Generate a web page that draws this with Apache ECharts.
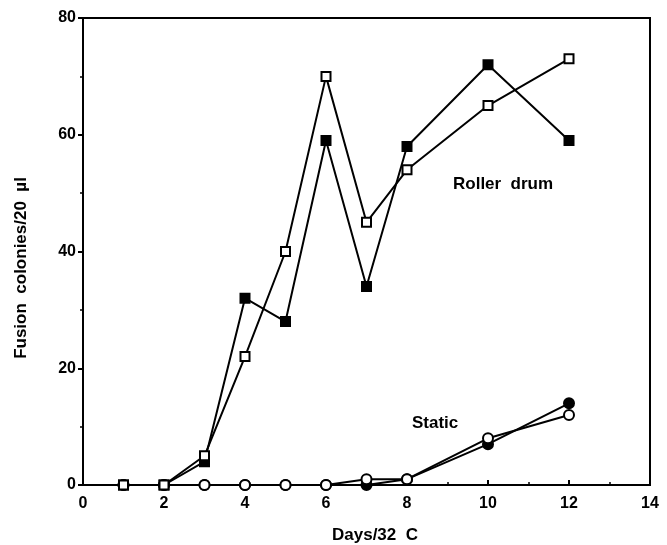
<!DOCTYPE html>
<html><head><meta charset="utf-8">
<script src="https://cdn.jsdelivr.net/npm/echarts@6/dist/echarts.min.js"></script>
<style>html,body{margin:0;padding:0;background:#fff}#c{width:667px;height:545px}</style>
</head><body><div id="c"></div>
<script>
const days = [1, 2, 3, 4, 5, 6, 7, 8, 10, 12];
const rollerFilled = [0, 0, 4, 32, 28, 59, 34, 58, 72, 59];
const rollerOpen = [0, 0, 5, 22, 40, 70, 45, 54, 65, 73];
const staticFilled = [0, 0, 0, 0, 0, 0, 0, 1, 7, 14];
const staticOpen = [0, 0, 0, 0, 0, 0, 1, 1, 8, 12];
const xTitle = 'Days/32  C';
const yTitle = 'Fusion  colonies/20  \u00b5l';

const pair = (xs, ys) => xs.map((x, i) => [x, ys[i]]);
const font = 'Liberation Sans, Arial, Helvetica, sans-serif';

function series(data, symbol, filled, z) {
  return {
    type: 'line', data: data, symbol: symbol, symbolSize: symbol === 'rect' ? 9 : 10,
    z: z,
    lineStyle: { color: '#000', width: 2 },
    itemStyle: { color: filled ? '#000' : '#fff', borderColor: '#000', borderWidth: 2 },
    showAllSymbol: true, animation: false
  };
}

const chart = echarts.init(document.getElementById('c'), null, { renderer: 'canvas' });
chart.setOption({
  animation: false,
  backgroundColor: '#fff',
  grid: { left: 83, right: 17, top: 18, bottom: 60, outerBoundsMode: 'none', containLabel: false, show: true, borderColor: '#000', borderWidth: 2, backgroundColor: 'transparent' },
  xAxis: {
    type: 'value', min: 0, max: 14, interval: 2,
    axisLine: { lineStyle: { color: '#000', width: 2 } },
    axisTick: { inside: true, length: 5, lineStyle: { color: '#000', width: 2 } },
    minorTick: { show: true, splitNumber: 2, length: 3, lineStyle: { color: '#000', width: 1.5 } },
    axisLabel: { fontFamily: font, fontWeight: 'bold', fontSize: 16, color: '#000', margin: 11 },
    splitLine: { show: false }
  },
  yAxis: {
    type: 'value', min: 0, max: 80, interval: 20,
    axisLine: { lineStyle: { color: '#000', width: 2 } },
    axisTick: { inside: false, length: 5, lineStyle: { color: '#000', width: 2 } },
    minorTick: { show: true, splitNumber: 2, length: 3, lineStyle: { color: '#000', width: 1.5 } },
    axisLabel: { fontFamily: font, fontWeight: 'bold', fontSize: 16, color: '#000', margin: 7 },
    splitLine: { show: false }
  },
  series: [
    series(pair(days, staticFilled), 'circle', true, 2),
    series(pair(days, staticOpen), 'circle', false, 3),
    series(pair(days, rollerFilled), 'rect', true, 4),
    series(pair(days, rollerOpen), 'rect', false, 5)
  ],
  graphic: [
    { type: 'text', x: 375, y: 535, style: { text: xTitle, font: 'bold 17px ' + font, fill: '#000', align: 'center', verticalAlign: 'middle' } },
    { type: 'text', x: 21, y: 268, rotation: Math.PI / 2, style: { text: yTitle, font: 'bold 17px ' + font, fill: '#000', align: 'center', verticalAlign: 'middle' } },
    { type: 'text', left: 453, top: 176, style: { text: 'Roller  drum', font: 'bold 17px ' + font, fill: '#000' } },
    { type: 'text', left: 412, top: 415, style: { text: 'Static', font: 'bold 17px ' + font, fill: '#000' } }
  ]
});
</script></body></html>
